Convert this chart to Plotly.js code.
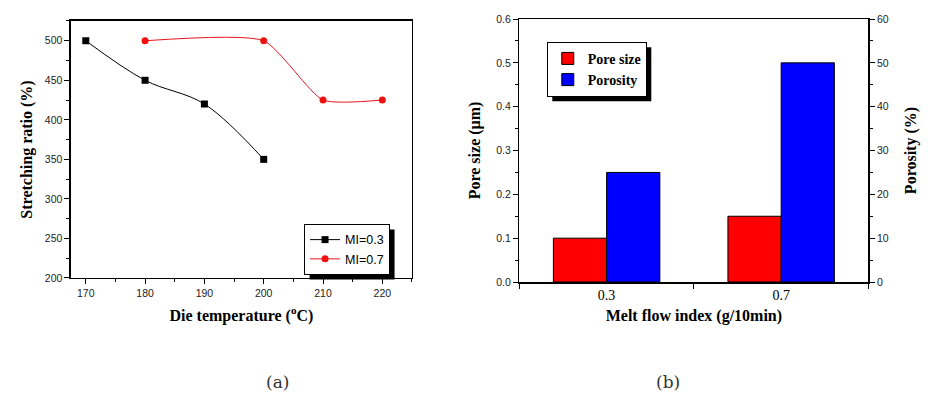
<!DOCTYPE html>
<html>
<head>
<meta charset="utf-8">
<script src="https://cdn.plot.ly/plotly-3.0.1.min.js"></script>
<style>html,body{margin:0;padding:0;background:#fff;}#chart{width:946px;height:402px;}</style>
</head>
<body>
<div id="chart"></div>
<script>
// Panel (a): stretching ratio vs die temperature
const tempMI03 = [170, 180, 190, 200];
const ratioMI03 = [500, 450, 420, 350];
const tempMI07 = [180, 200, 210, 220];
const ratioMI07 = [500, 500, 425, 425];
const seriesNamesA = ['MI=0.3', 'MI=0.7'];

// Panel (b): pore size & porosity vs melt flow index
const meltIndex = ['0.3', '0.7'];
const poreSize = [0.10, 0.15];
const porosity = [25, 50];
const seriesNamesB = ['Pore size', 'Porosity'];

const serif = "'Liberation Serif', 'Times New Roman', serif";
const sans = "'Liberation Sans', Arial, sans-serif";

const traces = [
  {x: tempMI03, y: ratioMI03, name: seriesNamesA[0], type: 'scatter', mode: 'lines+markers',
   xaxis: 'x', yaxis: 'y', legend: 'legend',
   line: {color: '#000', width: 1, shape: 'spline', smoothing: 1},
   marker: {symbol: 'square', size: 7, color: '#000'}},
  {x: tempMI07, y: ratioMI07, name: seriesNamesA[1], type: 'scatter', mode: 'lines+markers',
   xaxis: 'x', yaxis: 'y', legend: 'legend',
   line: {color: '#e8141c', width: 1, shape: 'spline', smoothing: 0.55},
   marker: {symbol: 'circle', size: 7, color: '#f01010'}},
  {x: meltIndex, y: poreSize, name: seriesNamesB[0], type: 'bar',
   xaxis: 'x2', yaxis: 'y2', legend: 'legend2', offsetgroup: '1',
   marker: {color: '#ff0000', line: {color: '#000', width: 1}}},
  {x: meltIndex, y: porosity, name: seriesNamesB[1], type: 'bar',
   xaxis: 'x2', yaxis: 'y3', legend: 'legend2', offsetgroup: '2',
   marker: {color: '#0000ff', line: {color: '#000', width: 1}}}
];

const tickFont = {family: sans, size: 10.5, color: '#222'};
const titleFont = {family: serif, size: 16, color: '#000', weight: 'bold'};

const baseAxis = {
  showline: true, linecolor: '#000', linewidth: 1.5, showgrid: false, zeroline: false,
  ticks: 'outside', ticklen: 5, tickwidth: 1, tickcolor: '#000', tickfont: tickFont,
  automargin: false
};

const layout = {
  width: 946, height: 402,
  margin: {l: 0, r: 0, t: 0, b: 0},
  paper_bgcolor: '#fff', plot_bgcolor: '#fff',
  showlegend: true,
  barmode: 'group', bargap: 0.39, bargroupgap: 0,
  xaxis: Object.assign({}, baseAxis, {
    domain: [0.075, 0.4355], anchor: 'y', range: [167.5, 225],
    tick0: 170, dtick: 10, mirror: true,
    minor: {dtick: 5, ticks: 'outside', ticklen: 3, tickcolor: '#000', showgrid: false},
    title: {text: 'Die temperature (<sup>o</sup>C)', font: titleFont, standoff: 11}
  }),
  yaxis: Object.assign({}, baseAxis, {
    domain: [0.3085, 0.9478], anchor: 'x', range: [200, 525],
    tick0: 200, dtick: 50, mirror: true,
    minor: {dtick: 25, ticks: 'outside', ticklen: 3, tickcolor: '#000', showgrid: false},
    title: {text: 'Stretching ratio (%)', font: titleFont, standoff: 8}
  }),
  xaxis2: Object.assign({}, baseAxis, {
    domain: [0.549, 0.918], anchor: 'y2', type: 'category', range: [-0.5, 1.5],
    tickson: 'boundaries', mirror: true,
    tickfont: {family: serif, size: 14, color: '#000'},
    title: {text: 'Melt flow index (g/10min)', font: titleFont, standoff: 7}
  }),
  yaxis2: Object.assign({}, baseAxis, {
    domain: [0.2985, 0.9527], anchor: 'x2', range: [0, 0.6],
    tick0: 0, dtick: 0.1, tickformat: '.1f', mirror: true,
    minor: {dtick: 0.05, ticks: 'outside', ticklen: 3, tickcolor: '#000', showgrid: false},
    title: {text: 'Pore size (μm)', font: titleFont, standoff: 11}
  }),
  yaxis3: Object.assign({}, baseAxis, {
    domain: [0.2985, 0.9527], anchor: 'x2', overlaying: 'y2', side: 'right', range: [0, 60],
    tick0: 0, dtick: 10,
    minor: {dtick: 5, ticks: 'outside', ticklen: 3, tickcolor: '#000', showgrid: false},
    title: {text: 'Porosity (%)', font: titleFont, standoff: 17}
  }),
  legend: {
    x: 0.3214, y: 0.4428, xanchor: 'left', yanchor: 'top',
    bgcolor: '#fff', bordercolor: '#000', borderwidth: 1,
    font: {family: sans, size: 12.5, color: '#000'},
    tracegroupgap: 0, itemwidth: 30
  },
  legend2: {
    x: 0.578, y: 0.896, xanchor: 'left', yanchor: 'top',
    bgcolor: '#fff', bordercolor: '#000', borderwidth: 1,
    font: {family: serif, size: 14, color: '#000', weight: 'bold'},
    tracegroupgap: 0, itemwidth: 30
  },
  annotations: [
    {text: '(a)', xref: 'paper', yref: 'paper', x: 277/946, y: 1-382/402, showarrow: false,
     xanchor: 'center', yanchor: 'middle', font: {family: "'DejaVu Serif', serif", size: 17, color: '#333'}},
    {text: '(b)', xref: 'paper', yref: 'paper', x: 668/946, y: 1-382/402, showarrow: false,
     xanchor: 'center', yanchor: 'middle', font: {family: "'DejaVu Serif', serif", size: 17, color: '#333'}}
  ]
};

const gd = document.getElementById('chart');
Plotly.newPlot(gd, traces, layout, {displayModeBar: false, staticPlot: true}).then(function () {
  // drop shadows behind the legend boxes, sized from the drawn legends
  const W = 946, H = 402, off = 5;
  const root = gd.getBoundingClientRect();
  const shapes = [];
  gd.querySelectorAll('g.infolayer > g.legend, g.infolayer > g.legend2').forEach(function (g) {
    const bg = g.querySelector('rect.bg');
    if (!bg) return;
    const r = bg.getBoundingClientRect();
    const x0 = r.left - root.left + off, x1 = r.right - root.left + off;
    const y0 = r.top - root.top + off, y1 = r.bottom - root.top + off;
    shapes.push({type: 'rect', xref: 'paper', yref: 'paper',
      x0: x0 / W, x1: x1 / W, y0: 1 - y1 / H, y1: 1 - y0 / H,
      fillcolor: '#000', line: {width: 0}, layer: 'above'});
  });
  return Plotly.relayout(gd, {shapes: shapes});
});
</script>
</body>
</html>
